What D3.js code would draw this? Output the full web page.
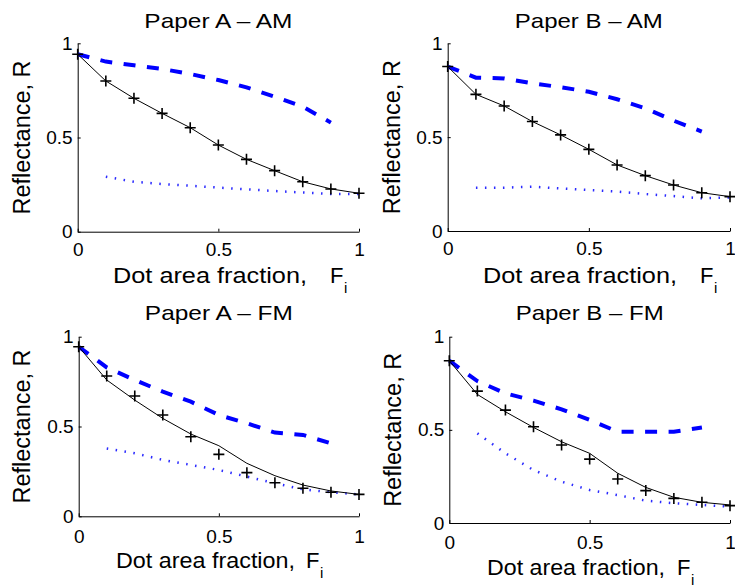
<!DOCTYPE html>
<html>
<head>
<meta charset="utf-8">
<script src="https://cdn.jsdelivr.net/npm/d3@7"></script>
<style>
  body { margin: 0; background: #fff; }
  text { font-family: "Liberation Sans", Arial, Helvetica, sans-serif; fill: #000; }
</style>
</head>
<body>
<div id="chart-area"></div>
<script>
// dot area fraction values
var fi = [0, 0.1, 0.2, 0.3, 0.4, 0.5, 0.6, 0.7, 0.8, 0.9, 1];
var fiDashed = [0, 0.1, 0.2, 0.3, 0.4, 0.5, 0.6, 0.7, 0.8, 0.9];
var fiDotted = [0.1, 0.2, 0.3, 0.4, 0.5, 0.6, 0.7, 0.8, 0.9, 1];

// Paper A - AM
var aAmMeasured = [0.942, 0.800, 0.708, 0.628, 0.552, 0.460, 0.384, 0.324, 0.265, 0.227, 0.204];
var aAmModel    = [0.942, 0.800, 0.708, 0.628, 0.552, 0.460, 0.384, 0.324, 0.265, 0.227, 0.204];
var aAmDashed   = [0.942, 0.903, 0.883, 0.864, 0.837, 0.805, 0.766, 0.717, 0.664, 0.579];
var aAmDotted   = [0.292, 0.265, 0.253, 0.244, 0.234, 0.225, 0.216, 0.208, 0.200, 0.200];

// Paper B - AM
var bAmMeasured = [0.876, 0.728, 0.666, 0.583, 0.512, 0.435, 0.352, 0.295, 0.245, 0.204, 0.183];
var bAmModel    = [0.876, 0.728, 0.666, 0.583, 0.512, 0.435, 0.352, 0.295, 0.245, 0.204, 0.183];
var bAmDashed   = [0.876, 0.817, 0.813, 0.787, 0.766, 0.742, 0.702, 0.654, 0.588, 0.530];
var bAmDotted   = [0.231, 0.231, 0.236, 0.227, 0.218, 0.210, 0.197, 0.186, 0.174, 0.179];

// Paper A - FM
var aFmMeasured = [0.944, 0.781, 0.670, 0.564, 0.443, 0.345, 0.243, 0.187, 0.156, 0.134, 0.122];
var aFmModel    = [0.944, 0.759, 0.647, 0.545, 0.458, 0.393, 0.295, 0.226, 0.174, 0.141, 0.122];
var aFmDashed   = [0.944, 0.829, 0.759, 0.694, 0.638, 0.564, 0.518, 0.466, 0.453, 0.406];
var aFmDotted   = [0.378, 0.351, 0.314, 0.286, 0.258, 0.221, 0.184, 0.150, 0.134, 0.122];

// Paper B - FM
var bFmMeasured = [0.871, 0.708, 0.606, 0.517, 0.419, 0.343, 0.236, 0.174, 0.132, 0.111, 0.093];
var bFmModel    = [0.871, 0.690, 0.597, 0.513, 0.436, 0.374, 0.267, 0.191, 0.138, 0.111, 0.097];
var bFmDashed   = [0.871, 0.762, 0.696, 0.657, 0.610, 0.553, 0.490, 0.490, 0.490, 0.513];
var bFmDotted   = [0.481, 0.374, 0.284, 0.222, 0.177, 0.150, 0.120, 0.106, 0.097, 0.088];

var titles = ["Paper A \u2013 AM", "Paper B \u2013 AM", "Paper A \u2013 FM", "Paper B \u2013 FM"];
var tickValues = [0, 0.5, 1];
var yLabel = "Reflectance, R";
var xLabelAm = "Dot area fraction,";

var width = 735, height = 588;

// layout of the four axes (pixel boxes)
var panels = [
    { title: titles[0], meas: aAmMeasured, model: aAmModel, dash: aAmDashed, dot: aAmDotted,
      left: 77.7, right: 359, top: 43.3, bottom: 231.7, titleY: 28, ylabX: 30,
      xlabX: 113, xlabY: 283, xlabW: 194, fX: 330, pad: 11 },
    { title: titles[1], meas: bAmMeasured, model: bAmModel, dash: bAmDashed, dot: bAmDotted,
      left: 447.7, right: 730, top: 43.3, bottom: 231, titleY: 28, ylabX: 400,
      xlabX: 483, xlabY: 283, xlabW: 194, fX: 700, pad: 11 },
    { title: titles[2], meas: aFmMeasured, model: aFmModel, dash: aFmDashed, dot: aFmDotted,
      left: 78.7, right: 359, top: 336.7, bottom: 516.3, titleY: 320, ylabX: 30,
      xlabX: 116, xlabY: 568, xlabW: 179, fX: 306, pad: 13 },
    { title: titles[3], meas: bFmMeasured, model: bFmModel, dash: bFmDashed, dot: bFmDotted,
      left: 449.3, right: 730, top: 336.7, bottom: 523, titleY: 320, ylabX: 401,
      xlabX: 487, xlabY: 575, xlabW: 178, fX: 677, pad: 13 }
];

var svg = d3.select("#chart-area")
    .append("svg")
        .attr("width", width)
        .attr("height", height);

svg.append("rect")
    .attr("width", width)
    .attr("height", height)
    .attr("fill", "#fff");

panels.forEach(function(p) {
    var x = d3.scaleLinear().domain([0, 1]).range([p.left, p.right]);
    var y = d3.scaleLinear().domain([0, 1]).range([p.bottom, p.top]);

    var g = svg.append("g");

    // axes, ticks pointing inwards like matlab
    var xAxisCall = d3.axisBottom(x)
        .tickValues(tickValues)
        .tickFormat(d3.format(""))
        .tickSizeInner(-3)
        .tickSizeOuter(0)
        .tickPadding(p.pad);

    var yAxisCall = d3.axisLeft(y)
        .tickValues(tickValues)
        .tickFormat(d3.format(""))
        .tickSizeInner(-3)
        .tickSizeOuter(0)
        .tickPadding(5);

    g.append("g")
        .attr("class", "x axis")
        .attr("transform", "translate(0, " + p.bottom + ")")
        .call(xAxisCall);

    g.append("g")
        .attr("class", "y axis")
        .attr("transform", "translate(" + p.left + ", 0)")
        .call(yAxisCall);

    g.selectAll(".axis")
        .attr("font-family", null)
        .attr("font-size", null);
    g.selectAll(".axis text")
        .attr("font-size", "19px");
    g.selectAll(".axis path, .axis line")
        .attr("stroke", "#000")
        .attr("stroke-width", 1);

    // lines
    var lineOf = function(xs) {
        return d3.line()
            .x(function(d, i) { return x(xs[i]); })
            .y(function(d) { return y(d); });
    };

    g.append("path")
        .attr("d", lineOf(fiDotted)(p.dot))
        .attr("fill", "none")
        .attr("stroke", "#2a2aff")
        .attr("stroke-width", 2.5)
        .attr("stroke-dasharray", "1.5,7.5");

    g.append("path")
        .attr("d", lineOf(fiDashed)(p.dash))
        .attr("fill", "none")
        .attr("stroke", "#0000ff")
        .attr("stroke-width", 4)
        .attr("stroke-dasharray", "12,11.5");

    g.append("path")
        .attr("d", lineOf(fi)(p.model))
        .attr("fill", "none")
        .attr("stroke", "#000")
        .attr("stroke-width", 1);

    g.selectAll(".mark")
        .data(p.meas)
        .enter()
        .append("path")
            .attr("class", "mark")
            .attr("transform", function(d, i) {
                return "translate(" + x(fi[i]) + "," + y(d) + ")";
            })
            .attr("d", "M-5.5,0H5.5M0,-5.5V5.5")
            .attr("stroke", "#000")
            .attr("stroke-width", 1.6);

    // titles and labels
    g.append("text")
        .attr("x", (p.left + p.right) / 2)
        .attr("y", p.titleY)
        .attr("font-size", "21px")
        .attr("text-anchor", "middle")
        .attr("textLength", 148)
        .attr("lengthAdjust", "spacingAndGlyphs")
        .text(p.title);

    g.append("text")
        .attr("transform", "translate(" + p.ylabX + "," + ((p.top + p.bottom) / 2) + ") rotate(-90)")
        .attr("font-size", "23px")
        .attr("text-anchor", "middle")
        .attr("textLength", 154)
        .attr("lengthAdjust", "spacingAndGlyphs")
        .text(yLabel);

    g.append("text")
        .attr("x", p.xlabX)
        .attr("y", p.xlabY)
        .attr("font-size", "22px")
        .attr("textLength", p.xlabW)
        .attr("lengthAdjust", "spacingAndGlyphs")
        .text(xLabelAm);

    g.append("text")
        .attr("x", p.fX)
        .attr("y", p.xlabY)
        .attr("font-size", "22px")
        .text("F");

    g.append("text")
        .attr("x", p.fX + 14)
        .attr("y", p.xlabY + 10)
        .attr("font-size", "15px")
        .text("i");
});
</script>
</body>
</html>
